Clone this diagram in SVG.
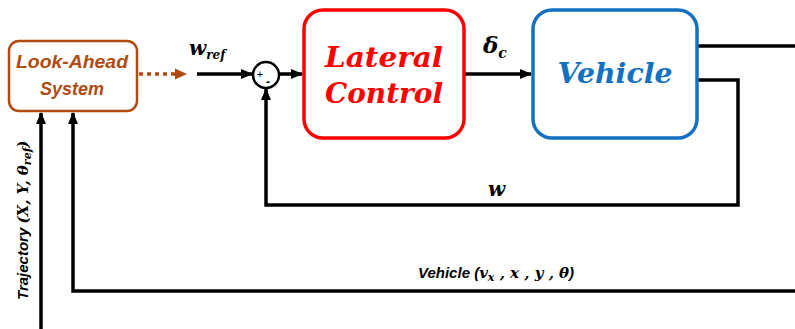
<svg xmlns="http://www.w3.org/2000/svg" width="795" height="329" viewBox="0 0 795 329">
<defs>
<marker id="ah" markerUnits="userSpaceOnUse" markerWidth="12" markerHeight="12" viewBox="0 0 12 12" refX="11" refY="6" orient="auto"><path d="M0,1 L12,6 L0,11 Z" fill="#000"/></marker>
<marker id="ahb" markerUnits="userSpaceOnUse" markerWidth="12" markerHeight="12" viewBox="0 0 12 12" refX="11" refY="6" orient="auto"><path d="M0,0.5 L12,6 L0,11.5 Z" fill="#B04B12"/></marker>
<style>
.ln{fill:none;stroke:#000;stroke-width:3.5}
.box{fill:#fff}
.m{font-family:"DejaVu Serif","Liberation Serif",serif;font-weight:bold;font-style:italic;fill:#000}
.s{font-family:"Liberation Sans","Open Sans",sans-serif;font-weight:bold;font-style:italic}
.big{font-family:"DejaVu Serif","Liberation Serif",serif;font-weight:bold;font-style:italic;font-size:27px}
</style>
</defs>
<g id="connectors">
<path class="ln" d="M139,74 L186,74" style="stroke:#B04B12;stroke-dasharray:4 4" marker-end="url(#ahb)"/>
<path class="ln" d="M197,74 L252,74" marker-end="url(#ah)"/>
<path class="ln" d="M280,74 L302,74" marker-end="url(#ah)"/>
<path class="ln" d="M465,74 L531,74" marker-end="url(#ah)"/>
<path class="ln" d="M698,46 L795,46"/>
<path class="ln" d="M698,80 L738,80 L738,205 L266,205 L266,89" marker-end="url(#ah)"/>
<path class="ln" d="M795,291 L73,291 L73,113" marker-end="url(#ah)"/>
<path class="ln" d="M41,329 L41,113" marker-end="url(#ah)"/>
</g>
<g id="sum">
<circle cx="266" cy="75" r="13" fill="#fff" stroke="#000" stroke-width="2.5"/>
<text x="260" y="78" font-family="Liberation Sans, sans-serif" font-size="11" text-anchor="middle">+</text>
<text x="268" y="86" font-family="Liberation Sans, sans-serif" font-size="12" font-weight="bold" text-anchor="middle">-</text>
</g>
<g id="lookahead">
<rect class="box" x="9" y="41" width="128" height="70" rx="10" stroke="#B04B12" stroke-width="2.5"/>
<text class="s" x="72" y="68" font-size="18" fill="#B04B12" text-anchor="middle" textLength="112" lengthAdjust="spacingAndGlyphs">Look-Ahead</text>
<text class="s" x="72" y="95" font-size="18" fill="#B04B12" text-anchor="middle" textLength="64" lengthAdjust="spacingAndGlyphs">System</text>
</g>
<g id="lateral">
<rect class="box" x="304" y="10" width="160" height="128" rx="19" stroke="#FF0000" stroke-width="3.5"/>
<text class="big" x="384" y="67" fill="#FF0000" text-anchor="middle" textLength="118" lengthAdjust="spacingAndGlyphs">Lateral</text>
<text class="big" x="384" y="103" fill="#FF0000" text-anchor="middle" textLength="118" lengthAdjust="spacingAndGlyphs">Control</text>
</g>
<g id="vehicle">
<rect class="box" x="533" y="10" width="164" height="128" rx="19" stroke="#1470C0" stroke-width="3.5"/>
<text class="big" x="615" y="83" fill="#1470C0" text-anchor="middle" textLength="115" lengthAdjust="spacingAndGlyphs">Vehicle</text>
</g>
<g id="labels">
<text class="m" x="189" y="55" font-size="20">w<tspan font-size="12" dy="4">ref</tspan></text>
<text class="m" x="483" y="53" font-size="23">δ<tspan font-size="14" dy="5">c</tspan></text>
<text class="m" x="488" y="196" font-size="20">w</text>
<text x="418" y="278" font-size="15"><tspan class="s">Vehicle (</tspan><tspan class="m">v<tspan font-size="11" dy="3">x</tspan><tspan dy="-3"> , x , y , θ</tspan></tspan><tspan class="s">)</tspan></text>
<text transform="translate(28,300) rotate(-90)" font-size="15"><tspan class="s">Trajectory </tspan><tspan class="m">(X, Y, θ<tspan font-size="11" dy="3">ref</tspan><tspan dy="-3">)</tspan></tspan></text>
</g>
</svg>
